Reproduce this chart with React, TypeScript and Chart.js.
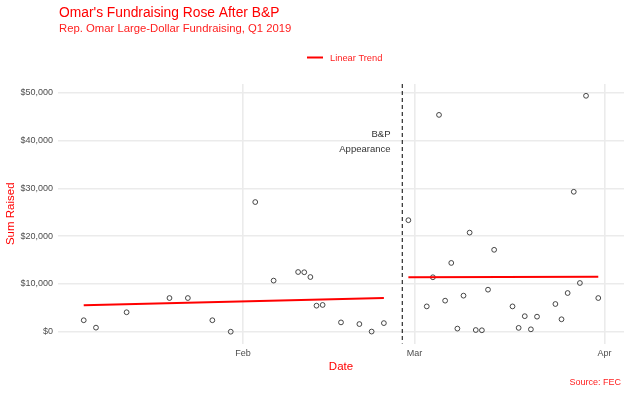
import React, { useEffect, useRef } from "react";
import { Chart, registerables } from "chart.js";

Chart.register(...registerables);

const FONT = '"Liberation Sans", Arial, Helvetica, sans-serif';

// Daily large-dollar sums before the B&P appearance
const beforeDates = [
  "2019-01-06", "2019-01-08", "2019-01-13", "2019-01-20", "2019-01-23", "2019-01-27",
  "2019-01-30", "2019-02-03", "2019-02-06", "2019-02-10", "2019-02-11", "2019-02-12",
  "2019-02-13", "2019-02-14", "2019-02-17", "2019-02-20", "2019-02-22", "2019-02-24",
];
const beforeValues = [
  2400, 850, 4070, 7050, 7050, 2400,
  0, 27150, 10700, 12500, 12450, 11450,
  5450, 5600, 1950, 1600, 30, 1800,
];

// Daily large-dollar sums after the B&P appearance
const afterDates = [
  "2019-02-28", "2019-03-03", "2019-03-04", "2019-03-05", "2019-03-06", "2019-03-07",
  "2019-03-08", "2019-03-09", "2019-03-10", "2019-03-11", "2019-03-12", "2019-03-13",
  "2019-03-14", "2019-03-17", "2019-03-18", "2019-03-19", "2019-03-20", "2019-03-21",
  "2019-03-24", "2019-03-25", "2019-03-26", "2019-03-27", "2019-03-28", "2019-03-29",
  "2019-03-31",
];
const afterValues = [
  23350, 5300, 11400, 45400, 6500, 14400,
  650, 7550, 20750, 350, 300, 8800,
  17150, 5300, 800, 3250, 500, 3150,
  5800, 2600, 8100, 29300, 10200, 49400,
  7050,
];

// Linear trend endpoints
const trendBeforeDates = ["2019-01-06", "2019-02-24"];
const trendBeforeValues = [5530, 7065];
const trendAfterDates = ["2019-02-28", "2019-03-31"];
const trendAfterValues = [11400, 11530];

const appearanceDate = "2019-02-27";

const xTickDates = ["2019-02-01", "2019-03-01", "2019-04-01"];
const xTickLabels = ["Feb", "Mar", "Apr"];
const yTickValues = [0, 10000, 20000, 30000, 40000, 50000];

function dayNum(s: string): number {
  const [y, m, d] = s.split("-").map(Number);
  return (Date.UTC(y, m - 1, d) - Date.UTC(2019, 0, 1)) / 86400000 + 1;
}

function toPoints(dates: string[], values: number[]) {
  return dates.map((d, i) => ({ x: dayNum(d), y: values[i] }));
}

function fmtDollar(v: number): string {
  return "$" + Math.round(v).toLocaleString("en-US");
}

export default function App() {
  const ref = useRef<HTMLCanvasElement | null>(null);

  useEffect(() => {
    const canvas = ref.current;
    if (!canvas) return;

    const allX = [...beforeDates, ...afterDates].map(dayNum);
    const allY = [...beforeValues, ...afterValues];
    const xMin0 = Math.min(...allX);
    const xMax0 = Math.max(...allX);
    const yMin0 = Math.min(0, ...allY);
    const yMax0 = Math.max(...allY);
    const xPad = (xMax0 - xMin0) * 0.05;
    const yPad = (yMax0 - yMin0) * 0.05;

    const xTicks = xTickDates.map(dayNum);

    const overlay = {
      id: "overlay",
      beforeDatasetsDraw(chart: any) {
        const { ctx, chartArea, scales } = chart;
        const x = scales.x.getPixelForValue(dayNum(appearanceDate));
        ctx.save();
        ctx.strokeStyle = "#000000";
        ctx.lineWidth = 1;
        ctx.setLineDash([4, 3]);
        ctx.beginPath();
        ctx.moveTo(x, chartArea.top);
        ctx.lineTo(x, chartArea.bottom);
        ctx.stroke();
        ctx.restore();
      },
      afterDraw(chart: any) {
        const { ctx, chartArea } = chart;
        ctx.save();
        ctx.textBaseline = "alphabetic";
        // Title
        ctx.fillStyle = "#FF0000";
        ctx.textAlign = "left";
        ctx.font = `13.8px ${FONT}`;
        ctx.fillText("Omar's Fundraising Rose After B&P", 59, 17);
        ctx.fillStyle = "#FF2020";
        ctx.font = `11.3px ${FONT}`;
        ctx.fillText("Rep. Omar Large-Dollar Fundraising, Q1 2019", 59, 32);
        // Legend
        ctx.strokeStyle = "#FF0000";
        ctx.lineWidth = 2;
        ctx.beginPath();
        ctx.moveTo(307, 57.5);
        ctx.lineTo(323, 57.5);
        ctx.stroke();
        ctx.fillStyle = "#FF2020";
        ctx.font = `9.3px ${FONT}`;
        ctx.fillText("Linear Trend", 330, 61);
        // Annotation
        ctx.fillStyle = "#333333";
        ctx.textAlign = "right";
        ctx.font = `9.5px ${FONT}`;
        ctx.fillText("B&P", 390.5, 137);
        ctx.fillText("Appearance", 390.5, 152);
        // Axis titles
        ctx.fillStyle = "#FF0000";
        ctx.textAlign = "center";
        ctx.font = `11.5px ${FONT}`;
        ctx.fillText("Date", (chartArea.left + chartArea.right) / 2, 369.5);
        ctx.save();
        ctx.translate(14, (chartArea.top + chartArea.bottom) / 2);
        ctx.rotate(-Math.PI / 2);
        ctx.fillText("Sum Raised", 0, 0);
        ctx.restore();
        // Caption
        ctx.fillStyle = "#FF2020";
        ctx.textAlign = "right";
        ctx.font = `9px ${FONT}`;
        ctx.fillText("Source: FEC", 621, 385);
        ctx.restore();
      },
    };

    const chart = new Chart(canvas, {
      type: "scatter",
      data: {
        datasets: [
          {
            label: "Before",
            data: toPoints(beforeDates, beforeValues),
            pointStyle: "circle",
            pointRadius: 2.4,
            pointBorderWidth: 0.9,
            borderColor: "#333333",
            backgroundColor: "rgba(0,0,0,0)",
            order: 2,
          },
          {
            label: "After",
            data: toPoints(afterDates, afterValues),
            pointStyle: "circle",
            pointRadius: 2.4,
            pointBorderWidth: 0.9,
            borderColor: "#333333",
            backgroundColor: "rgba(0,0,0,0)",
            order: 2,
          },
          {
            label: "Linear Trend",
            data: toPoints(trendBeforeDates, trendBeforeValues),
            showLine: true,
            borderColor: "#FF0000",
            borderWidth: 2,
            pointRadius: 0,
            fill: false,
            order: 1,
          } as any,
          {
            label: "Linear Trend 2",
            data: toPoints(trendAfterDates, trendAfterValues),
            showLine: true,
            borderColor: "#FF0000",
            borderWidth: 2,
            pointRadius: 0,
            fill: false,
            order: 1,
          } as any,
        ],
      },
      options: {
        animation: false,
        responsive: false,
        devicePixelRatio: 1,
        events: [],
        layout: { padding: { left: 0, right: 6, top: 84, bottom: 0 } },
        plugins: {
          legend: { display: false },
          tooltip: { enabled: false },
          title: { display: false },
        },
        scales: {
          x: {
            type: "linear",
            min: xMin0 - xPad,
            max: xMax0 + xPad,
            afterBuildTicks: (s: any) => {
              s.ticks = xTicks.map((v) => ({ value: v }));
            },
            afterFit: (s: any) => {
              s.height = 50.5;
            },
            ticks: {
              autoSkip: false,
              maxRotation: 0,
              padding: 5,
              color: "#4D4D4D",
              font: { family: FONT, size: 9 },
              callback: (_v: any, i: number) => xTickLabels[i],
            },
            grid: { color: "#EBEBEB", lineWidth: 1.6, drawTicks: false },
            border: { display: false },
          },
          y: {
            type: "linear",
            min: yMin0 - yPad,
            max: yMax0 + yPad,
            afterBuildTicks: (s: any) => {
              s.ticks = yTickValues.map((v) => ({ value: v }));
            },
            afterFit: (s: any) => {
              s.width = 58;
            },
            ticks: {
              autoSkip: false,
              padding: 5,
              color: "#4D4D4D",
              font: { family: FONT, size: 9 },
              callback: (v: any) => fmtDollar(Number(v)),
            },
            grid: { color: "#EBEBEB", lineWidth: 1.6, drawTicks: false },
            border: { display: false },
          },
        },
      },
      plugins: [overlay],
    } as any);

    return () => chart.destroy();
  }, []);

  return (
    <div style={{ position: "fixed", left: 0, top: 0, width: 630, height: 394, background: "#fff" }}>
      <canvas ref={ref} width={630} height={394} style={{ width: 630, height: 394, display: "block" }} />
    </div>
  );
}
